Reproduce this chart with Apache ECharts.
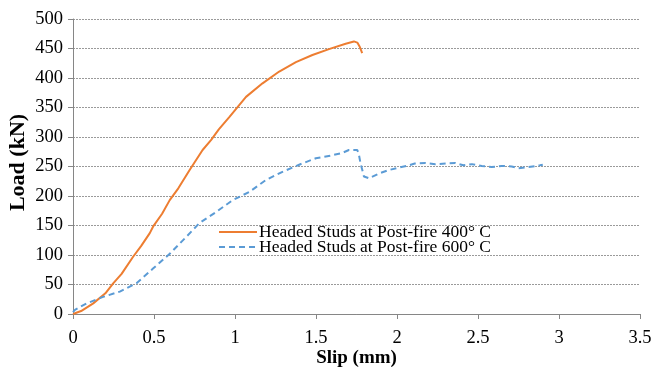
<!DOCTYPE html>
<html>
<head>
<meta charset="utf-8">
<script src="https://cdn.jsdelivr.net/npm/echarts@6/dist/echarts.min.js"></script>
<style>
  html, body { margin: 0; padding: 0; background: #fff; }
  #chart { width: 655px; height: 367px; }
</style>
</head>
<body>
<div id="chart"></div>
<script>
const seriesNames = ['Headed Studs at Post-fire 400° C', 'Headed Studs at Post-fire 600° C'];

const slip400 = [0, 0.05, 0.125, 0.2, 0.248, 0.3, 0.371, 0.42, 0.474, 0.494, 0.55, 0.597, 0.65, 0.72, 0.8, 0.853, 0.9, 0.966, 1.068, 1.17, 1.273, 1.376, 1.478, 1.58, 1.683, 1.734, 1.755, 1.77, 1.785];
const load400 = [0, 5, 18, 35, 52, 68, 97, 115, 137, 148, 170, 193, 213, 244, 278, 295, 313, 334, 368, 391, 411, 427, 439, 449, 458, 462, 460, 453, 442];

const slip600 = [0, 0.012, 0.084, 0.186, 0.289, 0.392, 0.494, 0.597, 0.70, 0.78, 0.884, 0.986, 1.089, 1.19, 1.293, 1.396, 1.499, 1.60, 1.662, 1.703, 1.755, 1.765, 1.775, 1.785, 1.796, 1.827, 1.888, 1.95, 2.01, 2.062, 2.11, 2.175, 2.237, 2.30, 2.36, 2.41, 2.462, 2.523, 2.585, 2.646, 2.708, 2.749, 2.81, 2.883, 2.90];
const load600 = [3, 7, 18, 29, 38, 52, 77, 102, 131, 154, 173, 193, 207, 227, 241, 253, 264, 269, 273, 278, 278, 270, 255, 245, 233, 230, 238, 244, 248, 251, 255, 256, 254, 255, 256, 252, 254, 251, 249, 251, 250, 247, 249, 252, 253];

const pairs = (xs, ys) => xs.map((x, i) => [x, ys[i]]);
const font = '"Liberation Serif", "Times New Roman", serif';

const chart = echarts.init(document.getElementById('chart'));
chart.setOption({
  animation: false,
  textStyle: {fontFamily: font},
  grid: {left: 73, right: 15, top: 19, bottom: 53, outerBoundsMode: 'none', containLabel: false},
  legend: {
    orient: 'vertical',
    left: 213,
    top: 218,
    itemWidth: 38,
    itemHeight: 10,
    itemGap: -3,
    itemStyle: {opacity: 0},
    textStyle: {fontFamily: font, fontSize: 17.5, color: '#000', padding: [0, 0, 0, -3]},
    data: seriesNames
  },
  xAxis: {
    type: 'value',
    min: 0, max: 3.5, interval: 0.5,
    name: 'Slip (mm)',
    nameLocation: 'middle',
    nameGap: 35,
    nameMoveOverlap: false,
    nameTextStyle: {fontFamily: font, fontSize: 19, fontWeight: 'bold', color: '#000'},
    axisLine: {show: true, lineStyle: {color: '#868686', width: 1}},
    axisTick: {show: true, length: 5, lineStyle: {color: '#868686'}},
    axisLabel: {fontFamily: font, fontSize: 18.5, color: '#000', margin: 15},
    splitLine: {show: false}
  },
  yAxis: {
    type: 'value',
    min: 0, max: 500, interval: 50,
    name: 'Load (kN)',
    nameLocation: 'middle',
    nameGap: 44,
    nameMoveOverlap: false,
    nameTextStyle: {fontFamily: font, fontSize: 22, fontWeight: 'bold', color: '#000', padding: [0, 0, 0, 8]},
    axisLine: {show: true, lineStyle: {color: '#868686', width: 1}},
    axisTick: {show: true, length: 5, lineStyle: {color: '#868686'}},
    axisLabel: {fontFamily: font, fontSize: 18.5, color: '#000', margin: 10},
    splitLine: {show: true, lineStyle: {color: '#9a9a9a', type: [2, 1], width: 1}}
  },
  series: [
    {
      name: seriesNames[0],
      type: 'line',
      symbol: 'none',
      data: pairs(slip400, load400),
      lineStyle: {color: '#ED7D31', width: 2},
      itemStyle: {color: '#ED7D31'}
    },
    {
      name: seriesNames[1],
      type: 'line',
      symbol: 'none',
      data: pairs(slip600, load600),
      lineStyle: {color: '#5B9BD5', width: 2, type: [6, 4]},
      itemStyle: {color: '#5B9BD5'}
    }
  ]
});
</script>
</body>
</html>
